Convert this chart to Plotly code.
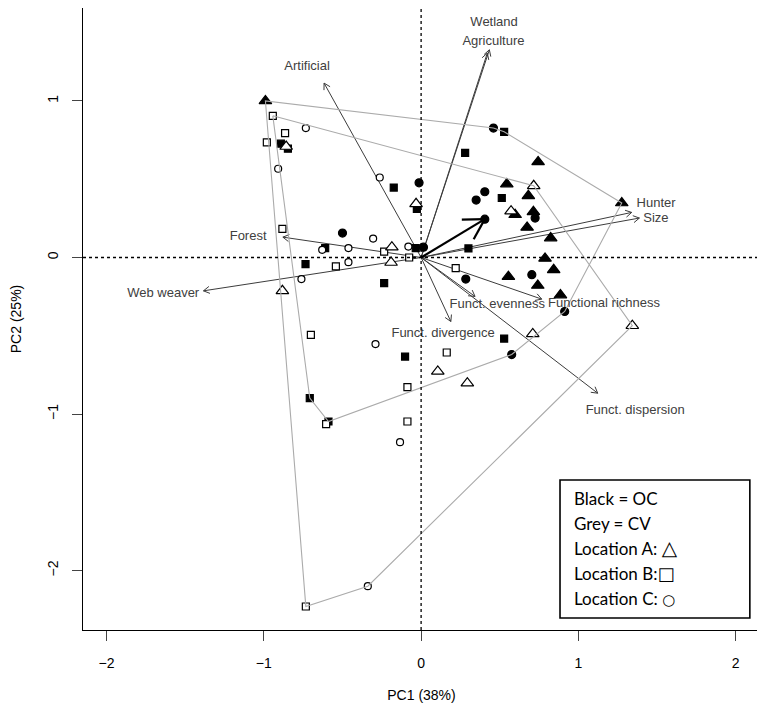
import numpy as np
import plotly.graph_objects as go

# sample scores (PC1, PC2)
# OC = black filled markers, CV = white open markers
oc_tri_x = [-0.99, 0.744, 0.545, 0.682, 1.276, 0.598, 0.714, 0.674, 0.824, 0.788, 0.843, 0.555, 0.742, 0.886]
oc_tri_y = [1.00, 0.611, 0.469, 0.394, 0.348, 0.273, 0.292, 0.192, 0.124, -0.006, -0.079, -0.123, -0.179, -0.24]
oc_sq_x = [-0.892, -0.847, -0.174, -0.027, -0.61, -0.034, -0.735, -0.235, -0.102, -0.708, -0.589,
           0.28, 0.528, 0.513, 0.301, 0.528]
oc_sq_y = [0.727, 0.695, 0.447, 0.311, 0.06, 0.06, -0.042, -0.164, -0.633, -0.898, -1.048,
           0.669, 0.803, 0.38, 0.058, -0.518]
oc_ci_x = [-0.013, -0.5, 0.015, 0.46, 0.405, 0.35, 0.725, 0.405, 0.284, 0.704, 0.913, 0.576]
oc_ci_y = [0.477, 0.156, 0.066, 0.827, 0.42, 0.367, 0.252, 0.245, -0.138, -0.11, -0.345, -0.62]

cv_tri_x = [-0.858, -0.032, -0.186, -0.191, -0.882, 0.716, 0.572, 1.343, 0.71, 0.106, 0.294]
cv_tri_y = [0.709, 0.343, 0.066, -0.032, -0.213, 0.458, 0.296, -0.436, -0.488, -0.728, -0.803]
cv_sq_x = [-0.943, -0.865, -0.981, -0.882, -0.235, -0.076, -0.542, 0.22, -0.701, 0.163, -0.087,
           -0.604, -0.087, -0.733]
cv_sq_y = [0.905, 0.795, 0.735, 0.183, 0.038, 0.0, -0.057, -0.068, -0.494, -0.607, -0.828,
           -1.065, -1.048, -2.23]
cv_ci_x = [-0.733, -0.909, -0.263, -0.305, -0.629, -0.462, -0.081, -0.462, -0.761, -0.29, -0.134, -0.339]
cv_ci_y = [0.827, 0.567, 0.511, 0.121, 0.049, 0.06, 0.07, -0.03, -0.138, -0.553, -1.18, -2.10]

# grey outline joining sites
hull_x = [-0.943, 0.716, 1.343, -0.339, -0.733, -0.99, 0.46, 0.528, 1.276, 0.913, 0.576,
          -0.589, -0.708, -0.943]
hull_y = [0.905, 0.458, -0.436, -2.10, -2.23, 1.00, 0.827, 0.803, 0.348, -0.345, -0.62,
          -1.048, -0.898, 0.905]

# variable loadings (arrow tips) and their labels
var_names = ['Artificial', 'Wetland', 'Agriculture', 'Hunter', 'Size', 'Forest', 'Web weaver',
             'Funct. evenness', 'Functional richness', 'Funct. divergence', 'Funct. dispersion']
var_x = [-0.617, 0.434, 0.421, 1.339, 1.388, -0.879, -1.384, 0.343, 0.767, 0.189, 1.123]
var_y = [1.114, 1.327, 1.306, 0.288, 0.252, 0.130, -0.213, -0.249, -0.266, -0.409, -0.867]
lab_x = [-0.725, 0.464, 0.46, 1.494, 1.493, -1.10, -1.64, 0.484, 1.163, 0.14, 1.361]
lab_y = [1.22, 1.502, 1.376, 0.343, 0.249, 0.134, -0.234, -0.302, -0.296, -0.488, -0.98]

# bold supplementary vector
bold_x = [0.405]
bold_y = [0.245]

sym = "<span style='font-size:%dpx;font-family:DejaVu Sans'>%s</span>"
legend_lines = ['Black = OC', 'Grey = CV', 'Location A: ' + sym % (20, '\u25b3'),
                'Location B:' + sym % (18, '\u25a1'), 'Location C: ' + sym % (15, '\u25cb')]

# page body has an 8px margin, so the figure is sized to fit inside the window
W, H = 757, 700
ML, MR, MT, MB = 75, 5, 0, 78
xr = [-2.15, 2.155]
yr = [-2.38, 1.594]
kx = (W - ML - MR) / (xr[1] - xr[0])
ky = (H - MT - MB) / (yr[1] - yr[0])


def arrow_xy(tx, ty, head_px, ang=30):
  """shaft from origin plus open V head, returned as one polyline with gaps"""
  xs, ys = [], []
  for x, y in zip(tx, ty):
    a = np.arctan2(y * ky, x * kx)
    xs += [0, x, None]
    ys += [0, y, None]
    for s in (-1, 1):
      b = a + np.pi + s * np.radians(ang)
      xs += [x + head_px * np.cos(b) / kx, x, None]
      ys += [y + head_px * np.sin(b) / ky, y, None]
  return xs, ys


fig = go.Figure()

ax, ay = arrow_xy(var_x, var_y, 7)
fig.add_trace(go.Scatter(x=ax, y=ay, mode='lines', line=dict(color='#3c3c3c', width=1),
                         hoverinfo='skip', showlegend=False))
bx, by = arrow_xy(bold_x, bold_y, 23)
fig.add_trace(go.Scatter(x=bx, y=by, mode='lines', line=dict(color='black', width=2.2),
                         hoverinfo='skip', showlegend=False))

def add_pts(x, y, sym, size, filled):
  fig.add_trace(go.Scatter(x=x, y=y, mode='markers', showlegend=False,
                           marker=dict(symbol=sym, size=size,
                                       color='black' if filled else 'white',
                                       line=dict(color='black', width=1.2))))

add_pts(oc_sq_x, oc_sq_y, 'square', 7, True)
add_pts(oc_ci_x, oc_ci_y, 'circle', 8, True)
add_pts(oc_tri_x, oc_tri_y, 'triangle-up', 11, True)
add_pts(cv_sq_x, cv_sq_y, 'square', 7, False)
add_pts(cv_ci_x, cv_ci_y, 'circle', 7, False)
add_pts(cv_tri_x, cv_tri_y, 'triangle-up', 11, False)

fig.add_trace(go.Scatter(x=hull_x, y=hull_y, mode='lines', line=dict(color='#ababab', width=1.1),
                         hoverinfo='skip', showlegend=False))

fig.add_trace(go.Scatter(x=lab_x, y=lab_y, text=var_names, mode='text', textposition='middle center',
                         textfont=dict(family='Liberation Sans, Arial', size=13, color='#404040'),
                         hoverinfo='skip', showlegend=False))

fig.add_hline(y=0, line_dash='dot', line_color='black', line_width=1.3)
fig.add_vline(x=0, line_dash='dot', line_color='black', line_width=1.3)

# legend box
fig.add_shape(type='rect', xref='paper', yref='paper', x0=0.7046, x1=0.985, y0=0.0193, y1=0.2412,
              line=dict(color='black', width=1.6), fillcolor='white', layer='above')
for i, t in enumerate(legend_lines):
  fig.add_annotation(xref='paper', yref='paper', x=0.722, y=0.2117 - i * 0.0402, text=t,
                     showarrow=False, xanchor='left', yanchor='middle',
                     font=dict(family='Lato, Open Sans', size=17, color='black'))

axis_font = dict(family='Liberation Sans, Arial', size=14, color='black')
fig.update_layout(width=W, height=H, margin=dict(l=ML, r=MR, t=MT, b=MB),
                  template=None, plot_bgcolor='white', paper_bgcolor='white',
                  xaxis=dict(range=xr, tickvals=[-2, -1, 0, 1, 2], ticks='outside', ticklen=10,
                             ticklabelstandoff=10,
                             showgrid=False, zeroline=False, showline=True, mirror=True,
                             linecolor='black', linewidth=1.2, tickfont=axis_font, automargin=False,
                             title=dict(text='PC1 (38%)', font=axis_font, standoff=20)),
                  yaxis=dict(range=yr, tickvals=[-2, -1, 0, 1], ticks='outside', ticklen=10,
                             ticklabelstandoff=8,
                             tickangle=-90, showgrid=False, zeroline=False, showline=True,
                             mirror=True, linecolor='black', linewidth=1.2, tickfont=axis_font,
                             automargin=False,
                             title=dict(text='PC2 (25%)', font=axis_font, standoff=30)))

fig.write_html('out.html')
